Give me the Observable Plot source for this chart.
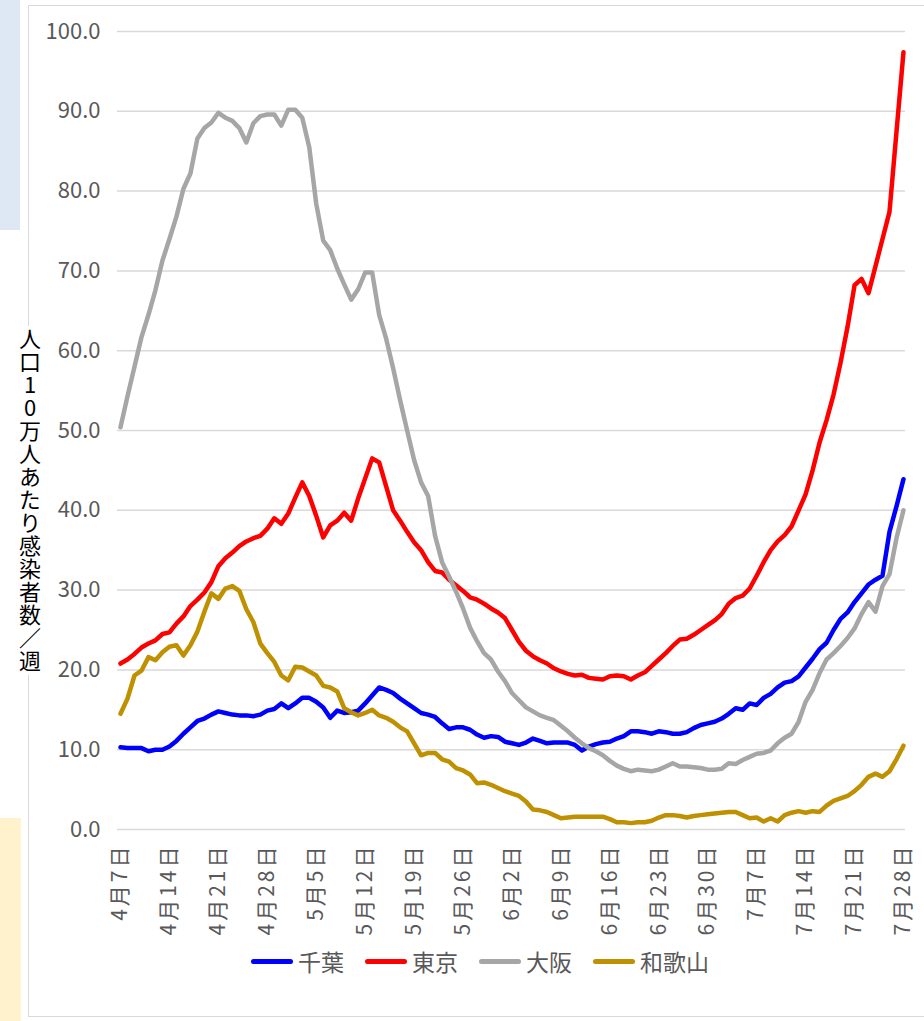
<!DOCTYPE html>
<html><head><meta charset="utf-8">
<script src="https://cdn.jsdelivr.net/npm/d3@7"></script>
<script src="https://cdn.jsdelivr.net/npm/@observablehq/plot@0.6"></script>
<style>
html,body{margin:0;padding:0;background:#fff;}
#wrap{position:relative;width:924px;height:1021px;overflow:hidden;font-family:"Noto Sans CJK JP","Noto Sans",sans-serif;}
#panelA{position:absolute;left:0;top:0;width:20px;height:230px;background:#dee8f4;}
#panelB{position:absolute;left:0;top:818px;width:21px;height:203px;background:#fff2cc;}
#frame{position:absolute;left:28px;top:5px;width:920px;height:1012px;border:1.5px solid #d9d9d9;box-sizing:border-box;}
#chart{position:absolute;left:0;top:0;}
#ylab{position:absolute;left:18px;top:326px;writing-mode:vertical-rl;text-orientation:upright;font-size:22px;letter-spacing:1px;color:#000;background:#fff;line-height:24px;padding:2px 0;}
#legend{position:absolute;top:944px;left:0;width:924px;display:flex;justify-content:center;gap:21px;padding-left:36px;box-sizing:border-box;}
.item{display:flex;align-items:center;font-size:23px;color:#595959;}
.sw{display:inline-block;width:42px;height:5px;border-radius:3px;margin-right:5px;}
#chart svg g[aria-label="x-axis tick label"] text{letter-spacing:3px;}
</style></head>
<body><div id="wrap">
<div id="panelA"></div><div id="panelB"></div>
<div id="frame"></div>
<div id="chart"></div>
<div id="ylab">人口10万人あたり感染者数／週</div>
<div id="legend"></div>
</div>
<script>
const startDate = "2021-04-07";
const seriesNames = ["千葉","東京","大阪","和歌山"];
const seriesColors = ["#0000ff","#ff0000","#a6a6a6","#bf9000"];
const yTicks = [0,10,20,30,40,50,60,70,80,90,100];
const xTickLabels = ["4月7日","4月14日","4月21日","4月28日","5月5日","5月12日","5月19日","5月26日","6月2日","6月9日","6月16日","6月23日","6月30日","7月7日","7月14日","7月21日","7月28日"];

const chiba = [10.3,10.2,10.2,10.2,9.8,10.0,10.0,10.4,11.1,12.0,12.8,13.6,13.9,14.4,14.8,14.6,14.4,14.3,14.3,14.2,
14.4,14.9,15.1,15.8,15.2,15.8,16.5,16.5,16.0,15.3,14.0,14.9,14.6,14.7,14.9,15.8,16.8,17.8,17.5,17.1,
16.4,15.8,15.2,14.6,14.4,14.1,13.3,12.6,12.8,12.8,12.5,11.9,11.5,11.7,11.6,11.0,10.8,10.6,10.9,11.4,
11.1,10.8,10.9,10.9,10.9,10.6,9.9,10.4,10.7,10.9,11.0,11.4,11.7,12.3,12.3,12.2,12.0,12.3,12.2,12.0,
12.0,12.2,12.7,13.1,13.3,13.5,13.9,14.5,15.2,15.0,15.8,15.6,16.5,17.0,17.8,18.4,18.6,19.2,20.3,21.4,
22.6,23.4,25.0,26.4,27.2,28.5,29.6,30.7,31.3,31.8,37.3,40.5,43.9];
const tokyo = [20.8,21.3,22.0,22.8,23.3,23.7,24.5,24.7,25.8,26.7,28.0,28.8,29.7,31.0,33.0,34.0,34.7,35.5,36.1,36.5,
36.8,37.7,39.0,38.3,39.6,41.6,43.5,41.8,39.3,36.6,38.1,38.7,39.7,38.7,41.5,44.0,46.5,46.0,43.0,40.0,
38.7,37.3,36.0,35.0,33.5,32.4,32.2,31.3,30.6,29.9,29.1,28.8,28.3,27.7,27.2,26.5,25.0,23.5,22.4,21.7,
21.2,20.8,20.2,19.8,19.5,19.3,19.4,19.0,18.9,18.8,19.2,19.3,19.2,18.8,19.3,19.7,20.5,21.3,22.1,23.0,
23.8,23.9,24.4,25.0,25.6,26.2,27.0,28.3,29.0,29.3,30.2,31.8,33.5,35.0,36.1,36.9,38.0,40.0,42.0,45.0,
48.5,51.3,54.5,58.5,63.0,68.2,69.0,67.2,70.6,74.0,77.4,87.4,97.4];
const osaka = [50.4,54.3,58.0,61.7,64.5,67.6,71.3,74.0,76.8,80.3,82.2,86.6,87.9,88.6,89.8,89.2,88.8,87.9,86.1,88.5,
89.4,89.6,89.6,88.2,90.2,90.2,89.2,85.5,78.4,73.8,72.6,70.3,68.3,66.4,67.7,69.8,69.8,64.5,61.5,57.8,
53.8,50.0,46.3,43.5,41.8,36.8,33.5,31.7,29.8,27.7,25.3,23.6,22.1,21.3,19.8,18.6,17.1,16.2,15.3,14.8,
14.3,14.0,13.7,13.0,12.3,11.5,10.8,10.2,9.8,9.3,8.6,8.0,7.6,7.3,7.5,7.4,7.3,7.5,7.9,8.3,
7.9,7.9,7.8,7.7,7.5,7.5,7.6,8.3,8.2,8.7,9.1,9.5,9.6,9.9,10.8,11.5,12.0,13.5,16.0,17.5,
19.6,21.3,22.1,23.0,24.0,25.2,27.0,28.5,27.3,30.5,32.0,36.5,40.0];
const wakayama = [14.5,16.4,19.3,19.9,21.6,21.2,22.2,22.9,23.1,21.8,23.1,24.8,27.3,29.6,28.9,30.2,30.5,29.9,27.6,26.0,
23.3,22.1,21.0,19.3,18.7,20.4,20.3,19.8,19.3,18.0,17.8,17.3,15.2,14.7,14.3,14.6,15.0,14.3,14.0,13.5,
12.8,12.3,10.8,9.3,9.6,9.6,8.8,8.5,7.7,7.4,6.9,5.8,5.9,5.6,5.2,4.8,4.5,4.2,3.5,2.5,
2.4,2.2,1.8,1.4,1.5,1.6,1.6,1.6,1.6,1.6,1.3,0.9,0.9,0.8,0.9,0.9,1.1,1.5,1.8,1.8,
1.7,1.5,1.7,1.8,1.9,2.0,2.1,2.2,2.2,1.8,1.4,1.5,1.0,1.4,1.0,1.8,2.1,2.3,2.1,2.3,
2.2,3.0,3.6,3.9,4.2,4.8,5.6,6.6,7.0,6.6,7.3,8.8,10.5];

const DAY = 864e5;
const t0 = Date.parse(startDate + "T00:00:00Z");
const allSeries = [chiba, tokyo, osaka, wakayama];
const rows = [];
allSeries.forEach((arr, s) => arr.forEach((v, i) => rows.push({date: new Date(t0 + i*DAY), value: v, series: seriesNames[s]})));
const xTicks = xTickLabels.map((_, i) => new Date(t0 + i*7*DAY));
const labelOf = new Map(xTicks.map((d, i) => [+d, xTickLabels[i]]));
const nDays = chiba.length - 1;

const chart = Plot.plot({
  width: 924, height: 940,
  marginLeft: 117, marginRight: 19, marginTop: 31, marginBottom: 111,
  style: {fontFamily: '"Noto Sans CJK JP","Noto Sans",sans-serif', color: "#595959", background: "transparent", overflow: "visible"},
  x: {type: "utc", domain: [new Date(t0 - 0.43*DAY), new Date(t0 + (nDays + 0.29)*DAY)]},
  y: {domain: [0, 100]},
  color: {domain: seriesNames, range: seriesColors},
  marks: [
    Plot.ruleY(yTicks, {stroke: "#d9d9d9", strokeWidth: 1.5}),
    Plot.axisY(yTicks, {tickSize: 0, tickPadding: 17, fontSize: 22, tickFormat: d => d.toFixed(1), label: null}),
    Plot.axisX(xTicks, {tickSize: 0, tickPadding: 14, tickRotate: -90, fontSize: 21, tickFormat: d => labelOf.get(+d), label: null}),
    ...seriesNames.map((name, s) => Plot.lineY(rows.filter(r => r.series === name), {
      x: "date", y: "value", stroke: seriesColors[s], strokeWidth: 4.5, strokeLinejoin: "round", strokeLinecap: "round"
    }))
  ]
});
document.getElementById("chart").appendChild(chart);

const lg = document.getElementById("legend");
seriesNames.forEach((n, i) => {
  const it = document.createElement("div"); it.className = "item";
  const sw = document.createElement("span"); sw.className = "sw"; sw.style.background = seriesColors[i];
  it.appendChild(sw); it.appendChild(document.createTextNode(n));
  lg.appendChild(it);
});
</script>
</body></html>
